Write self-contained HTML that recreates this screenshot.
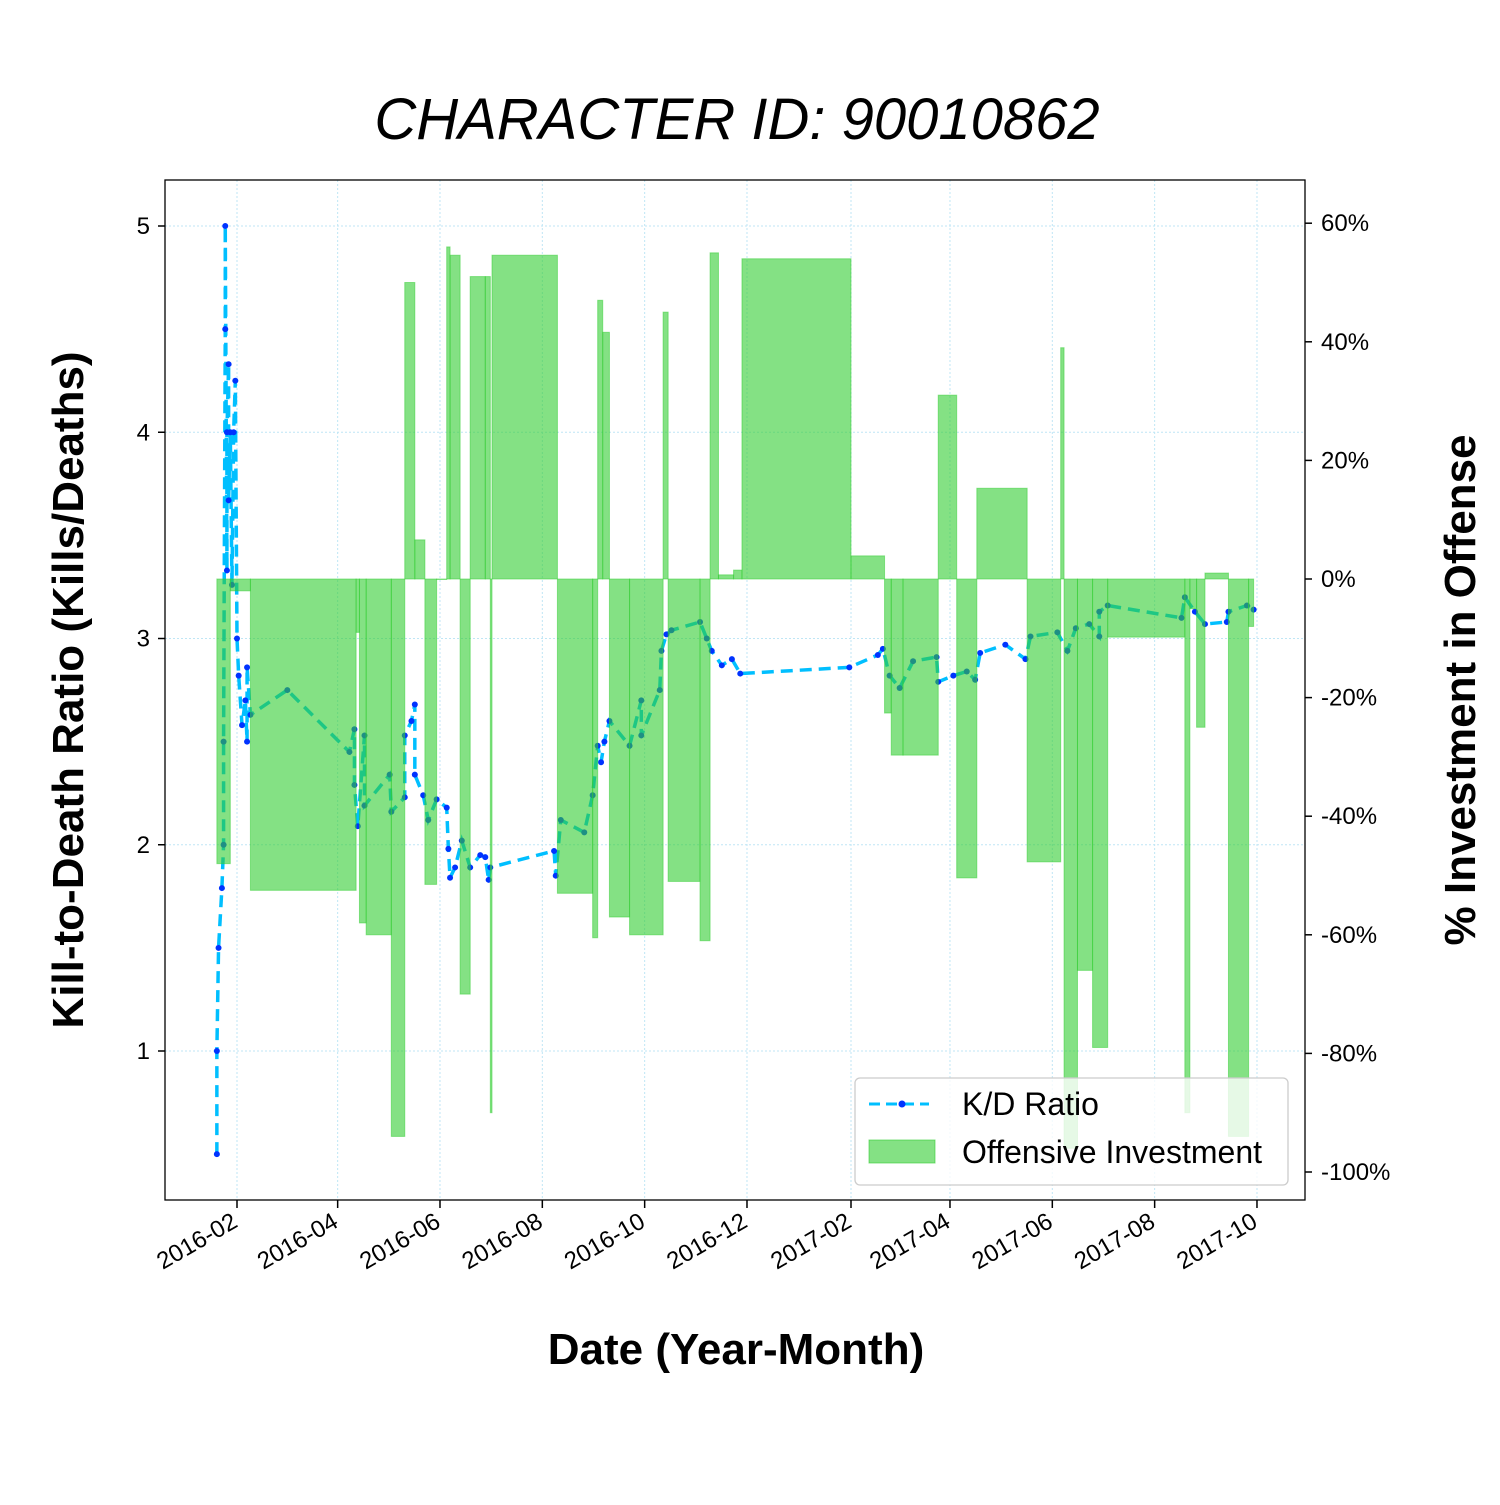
<!DOCTYPE html>
<html><head><meta charset="utf-8"><style>
body{margin:0;background:#fff;}
svg text{font-family:"Liberation Sans",sans-serif;}
</style></head><body>
<svg id="chart" width="1500" height="1500" viewBox="0 0 1500 1500" xmlns="http://www.w3.org/2000/svg">
<rect width="1500" height="1500" fill="#fff"/>
<text x="737" y="139" text-anchor="middle" font-size="58" font-style="italic">CHARACTER ID: 90010862</text>
<g id="grid"></g>
<g id="line"></g>
<g id="area"></g>
<rect x="165" y="180" width="1140" height="1020" fill="none" stroke="#000" stroke-width="1.3"/>
<g id="axes"></g>
<text transform="translate(83,690) rotate(-90)" text-anchor="middle" font-size="44" font-weight="bold">Kill-to-Death Ratio (Kills/Deaths)</text>
<text transform="translate(1475,690) rotate(-90)" text-anchor="middle" font-size="44" font-weight="bold">% Investment in Offense</text>
<text x="736" y="1364" text-anchor="middle" font-size="44" font-weight="bold">Date (Year-Month)</text>
<g>
<rect x="855" y="1078" width="433" height="107" rx="5" fill="#fff" fill-opacity="0.8" stroke="#ccc" stroke-width="1.3"/>
<line x1="869" y1="1104" x2="929" y2="1104" stroke="#00bfff" stroke-width="3" stroke-dasharray="11,6"/>
<circle cx="902" cy="1104" r="3.5" fill="#0033ff"/>
<text x="962" y="1115" font-size="32">K/D Ratio</text>
<rect x="869" y="1140" width="66" height="23" fill="rgba(50,205,50,0.6)" stroke="rgba(50,205,50,0.6)"/>
<text x="962" y="1163" font-size="32">Offensive Investment</text>
</g>
</svg>
<script>
// days since 2016-01-01
const kdDays=[19,19,20,22,23,23,24,24,25,25,26,26,27,28,29,30,31,32,34,36,37,37,39,61,98,101,101,103,107,107,122,123,131,131,135,137,137,142,145,150,156,157,158,161,165,170,176,179,181,182,220,221,224,238,243,246,248,250,253,265,272,272,283,284,287,290,307,311,314,320,326,331,396,413,416,420,426,434,448,449,458,466,471,474,489,501,504,520,526,531,539,545,545,550,594,596,602,608,621,622,633,637];
const kdValues=[0.5,1.0,1.5,1.79,2.0,2.5,4.5,5.0,3.33,4.0,4.33,3.67,4.0,3.26,4.0,4.25,3.0,2.82,2.58,2.7,2.5,2.86,2.63,2.75,2.45,2.56,2.29,2.09,2.53,2.19,2.34,2.16,2.23,2.53,2.6,2.68,2.34,2.24,2.12,2.22,2.18,1.98,1.84,1.89,2.02,1.89,1.95,1.94,1.83,1.89,1.97,1.85,2.12,2.06,2.24,2.48,2.4,2.5,2.6,2.48,2.70,2.53,2.75,2.94,3.02,3.04,3.08,3.0,2.94,2.87,2.9,2.83,2.86,2.92,2.95,2.82,2.76,2.89,2.91,2.79,2.82,2.84,2.80,2.93,2.97,2.90,3.01,3.03,2.94,3.05,3.07,3.01,3.13,3.16,3.10,3.20,3.13,3.07,3.08,3.13,3.16,3.14];
const invStart=[19,27,39,102,104,108,123,131,137,143,150,156,158,164,170,179,182,183,222,243,246,249,253,265,285,288,307,313,318,327,332,397,417,421,428,449,460,472,502,522,524,532,541,550,596,599,603,608,622,634];
const invEnd=637;
const invPct=[-48,-2,-52.5,-9,-58,-60,-94,50,6.6,-51.5,0,56,54.6,-70,51,51,-90,54.6,-53,-60.5,47,41.6,-57,-60,45,-51,-61,55,0.7,1.5,54,3.9,-22.6,-29.7,-29.7,31,-50.4,15.3,-47.7,39,-96,-66,-79,-9.8,-90,-5,-25,1,-94,-8];
const yTicks=[1,2,3,4,5];
const y2Ticks=[60,40,20,0,-20,-40,-60,-80,-100];
const xTickLabels=["2016-02","2016-04","2016-06","2016-08","2016-10","2016-12","2017-02","2017-04","2017-06","2017-08","2017-10"];
const xTickDays=[31,91,152,213,274,335,397,456,517,578,639];

const NS="http://www.w3.org/2000/svg";
const X=d=>237+(d-31)*1.6776;
const Y=v=>226+(5-v)*206.25;
const Y2=p=>579-p*5.93;
function mk(tag,attrs,parent){const e=document.createElementNS(NS,tag);for(const k in attrs)e.setAttribute(k,attrs[k]);parent.appendChild(e);return e;}
const grid=document.getElementById('grid'),axes=document.getElementById('axes'),lineG=document.getElementById('line'),areaG=document.getElementById('area');

yTicks.forEach(v=>{
 const g=mk('line',{x1:165,x2:1305,y1:Y(v),y2:Y(v),stroke:'#bfe6f5','stroke-width':1,'stroke-dasharray':'2,2'},grid);
 
 
 mk('line',{x1:158,x2:165,y1:Y(v),y2:Y(v),stroke:'#000','stroke-width':1.5},axes);
 const t=mk('text',{x:150,y:Y(v)+8,'text-anchor':'end','font-size':24},axes);t.textContent=v;
 
 
});
y2Ticks.forEach(p=>{
 mk('line',{x1:1305,x2:1312,y1:Y2(p),y2:Y2(p),stroke:'#000','stroke-width':1.5},axes);
 const t=mk('text',{x:1321,y:Y2(p)+8,'font-size':24},axes);t.textContent=p+'%';
 
 
});
xTickDays.forEach((d,i)=>{
 const x=X(d);
 const g=mk('line',{x1:x,x2:x,y1:180,y2:1200,stroke:'#bfe6f5','stroke-width':1,'stroke-dasharray':'2,2'},grid);
 
 
 mk('line',{x1:x,x2:x,y1:1200,y2:1208,stroke:'#000','stroke-width':1.5},axes);
 const t=mk('text',{x:x+2,y:1226,'text-anchor':'end','font-size':24,transform:`rotate(-30 ${x+2} 1226)`},axes);t.textContent=xTickLabels[i];
 
 
});
const pts=kdDays.map((d,i)=>X(d)+','+Y(kdValues[i])).join(' ');
const pl=mk('polyline',{points:pts,fill:'none',stroke:'#00bfff','stroke-width':3.5,'stroke-dasharray':'12,7'},lineG);


kdDays.forEach((d,i)=>{
 const c=mk('circle',{cx:X(d),cy:Y(kdValues[i]),r:3,fill:'#0033ff'},lineG);
 
 
});
invStart.forEach((d,i)=>{
 const end=i<invStart.length-1?invStart[i+1]:invEnd;
 const x1=X(d),x2=X(end),y0=Y2(0),y1=Y2(invPct[i]);
 const r=mk('rect',{x:x1,y:Math.min(y0,y1),width:Math.max(0.5,x2-x1),height:Math.max(0.5,Math.abs(y1-y0)),fill:'rgba(50,205,50,0.6)',stroke:'rgba(50,205,50,0.5)','stroke-width':1},areaG);
 
 
});
</script>
</body></html>
